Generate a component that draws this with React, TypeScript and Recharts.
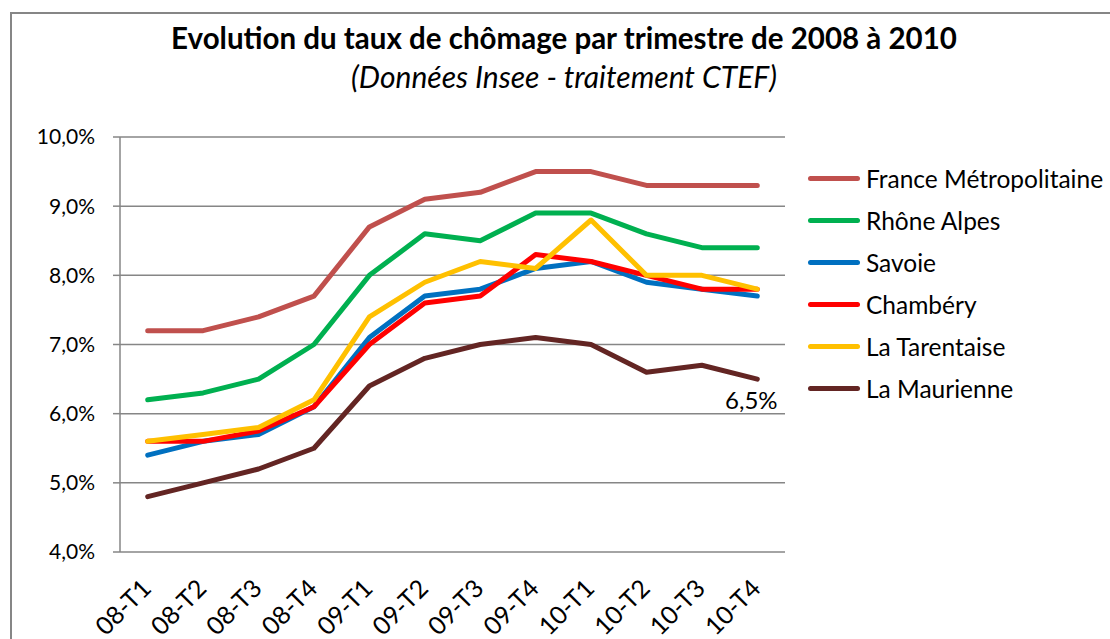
import {
  LineChart,
  Line,
  XAxis,
  YAxis,
  CartesianGrid,
  LabelList,
} from "recharts";

const categories = [
  "08-T1", "08-T2", "08-T3", "08-T4",
  "09-T1", "09-T2", "09-T3", "09-T4",
  "10-T1", "10-T2", "10-T3", "10-T4",
];

const france = [7.2, 7.2, 7.4, 7.7, 8.7, 9.1, 9.2, 9.5, 9.5, 9.3, 9.3, 9.3];
const rhoneAlpes = [6.2, 6.3, 6.5, 7.0, 8.0, 8.6, 8.5, 8.9, 8.9, 8.6, 8.4, 8.4];
const savoie = [5.4, 5.6, 5.7, 6.1, 7.1, 7.7, 7.8, 8.1, 8.2, 7.9, 7.8, 7.7];
const chambery = [5.6, 5.6, 5.75, 6.1, 7.0, 7.6, 7.7, 8.3, 8.2, 8.0, 7.8, 7.8];
const tarentaise = [5.6, 5.7, 5.8, 6.2, 7.4, 7.9, 8.2, 8.1, 8.8, 8.0, 8.0, 7.8];
const maurienne = [4.8, 5.0, 5.2, 5.5, 6.4, 6.8, 7.0, 7.1, 7.0, 6.6, 6.7, 6.5];

const yTicks = [4, 5, 6, 7, 8, 9, 10];

const series = [
  { key: "france", name: "France Métropolitaine", color: "#C0504D", values: france },
  { key: "rhone", name: "Rhône Alpes", color: "#00B050", values: rhoneAlpes },
  { key: "savoie", name: "Savoie", color: "#0070C0", values: savoie },
  { key: "chambery", name: "Chambéry", color: "#FF0000", values: chambery },
  { key: "tarentaise", name: "La Tarentaise", color: "#FFC000", values: tarentaise },
  { key: "maurienne", name: "La Maurienne", color: "#632523", values: maurienne },
];

const rows = categories.map((cat, i) => {
  const row: Record<string, number | string> = { pos: i + 0.5, cat };
  series.forEach((s) => {
    row[s.key] = s.values[i];
  });
  return row;
});

const FONT = "Lato, 'Open Sans', sans-serif";
const GRID = "#868686";

const fmtPct = (v: number) => v.toFixed(1).replace(".", ",") + "%";

function CatTick({ x, y, payload }: any) {
  const label = categories[Math.floor(payload.value)];
  return (
    <text
      transform={`translate(${x + 5},${y + 30}) rotate(-45)`}
      textAnchor="end"
      fontSize={25}
      fontFamily={FONT}
      fill="#000"
    >
      {label}
    </text>
  );
}

function LastLabel(props: any) {
  const { x, y, index } = props;
  if (index !== categories.length - 1) return null;
  return (
    <text
      x={x - 6}
      y={y + 30}
      textAnchor="middle"
      fontSize={24}
      fontFamily={FONT}
      fill="#000"
    >
      {fmtPct(maurienne[index])}
    </text>
  );
}

export default function App() {
  return (
    <div
      style={{
        position: "absolute",
        left: 0,
        top: 0,
        width: 1110,
        height: 639,
        background: "#fff",
        overflow: "hidden",
      }}
    >
      <div
        style={{
          position: "absolute",
          left: 10,
          top: 12,
          width: 1120,
          height: 650,
          border: `2px solid ${GRID}`,
        }}
      />
      <div
        style={{
          position: "absolute",
          left: 0,
          top: 20,
          width: 1128,
          textAlign: "center",
          fontFamily: FONT,
          fontWeight: 700,
          fontSize: 29.5,
        }}
      >
        Evolution du taux de chômage par trimestre de 2008 à 2010
      </div>
      <div
        style={{
          position: "absolute",
          left: 0,
          top: 58,
          width: 1128,
          textAlign: "center",
          fontFamily: FONT,
          fontStyle: "italic",
          fontSize: 30,
        }}
      >
        (Données Insee - traitement CTEF)
      </div>
      <div style={{ position: "absolute", left: 0, top: 0 }}>
        <LineChart
          width={1110}
          height={639}
          data={rows}
          margin={{ top: 137, right: 325, bottom: 0, left: 20 }}
        >
          <CartesianGrid
            vertical={false}
            stroke={GRID}
            strokeWidth={1.5}
            yAxisId="y"
            xAxisId="lab"
          />
          <XAxis
            xAxisId="marks"
            type="number"
            dataKey="pos"
            domain={[0, categories.length]}
            ticks={categories.map((_, i) => i).concat([categories.length])}
            tickFormatter={() => ""}
            height={0}
            axisLine={{ stroke: GRID, strokeWidth: 1.5 }}
            tickLine={{ stroke: GRID, strokeWidth: 1.5 }}
            tickSize={8}
            interval={0}
          />
          <XAxis
            xAxisId="lab"
            type="number"
            dataKey="pos"
            domain={[0, categories.length]}
            ticks={categories.map((_, i) => i + 0.5)}
            axisLine={false}
            tickLine={false}
            tick={<CatTick />}
            height={87}
            interval={0}
          />
          <YAxis
            yAxisId="y"
            type="number"
            domain={[4, 10]}
            ticks={yTicks}
            width={100}
            tickFormatter={fmtPct}
            axisLine={{ stroke: GRID, strokeWidth: 1.5 }}
            tickLine={{ stroke: GRID, strokeWidth: 1.5 }}
            tickSize={7}
            tickMargin={18}
            tick={{ fill: "#000", fontSize: 21, fontFamily: FONT }}
            interval={0}
          />
          {series.map((s) => (
            <Line
              key={s.key}
              xAxisId="lab"
              yAxisId="y"
              dataKey={s.key}
              name={s.name}
              stroke={s.color}
              strokeWidth={5}
              strokeLinecap="round"
              strokeLinejoin="round"
              dot={false}
              activeDot={false}
              isAnimationActive={false}
            >
              {s.key === "maurienne" && (
                <LabelList dataKey={s.key} content={<LastLabel />} />
              )}
            </Line>
          ))}
        </LineChart>
      </div>
      <div
        style={{
          position: "absolute",
          left: 808,
          top: 157,
          fontFamily: FONT,
          fontSize: 24.5,
          color: "#000",
        }}
      >
        {series.map((s) => (
          <div
            key={s.key}
            style={{ display: "flex", alignItems: "center", height: 42 }}
          >
            <span
              style={{
                display: "inline-block",
                width: 52,
                height: 5,
                borderRadius: 3,
                background: s.color,
                marginRight: 6,
              }}
            />
            <span style={{ whiteSpace: "nowrap" }}>{s.name}</span>
          </div>
        ))}
      </div>
    </div>
  );
}
